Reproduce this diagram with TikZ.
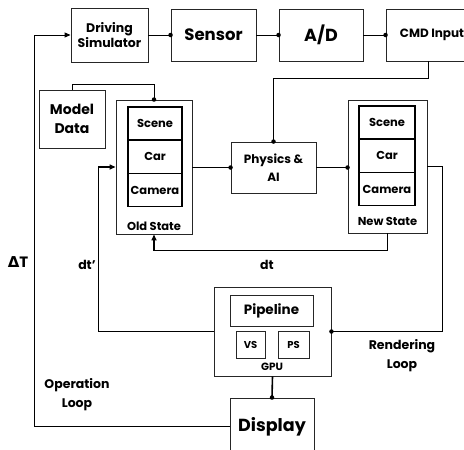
\documentclass[tikz,border=0pt]{standalone}
\usepackage{fontspec}
\setmainfont{Poppins}[BoldFont={* Bold}]
\newfontfamily\greekfont{DejaVu Sans}
\usetikzlibrary{arrows.meta}
\begin{document}
\begin{tikzpicture}[x=1pt,y=-1pt,
  every node/.style={font=\bfseries, text=black},
  blk/.style={draw=black!85, line width=0.9pt, rectangle, inner sep=0pt, align=center},
  cell/.style={draw=black, line width=1.4pt, rectangle, inner sep=0pt, minimum width=54pt, minimum height=33.3pt, font=\bfseries\fontsize{11.5}{12}\selectfont},
  wire/.style={draw=black, line width=0.9pt},
  bold wire/.style={draw=black, line width=1.6pt},
  arr/.style={-{Triangle[length=6pt,width=5pt]}},
  jdot/.style={circle, fill=black, inner sep=0pt, minimum size=4.5pt},
  lbl/.style={align=center, inner sep=0pt, font=\bfseries\fontsize{12.5}{14}\selectfont}]
\useasboundingbox (0,0) rectangle (464,450);
\begin{scope}
\clip (0,0) rectangle (464,450);

% signal chain along the top
\node[blk, minimum width=77pt, minimum height=54pt, font=\bfseries\fontsize{12.5}{15.5}\selectfont] (ds) at (109.5,35) {Driving\\Simulator};
\node[blk, minimum width=85pt, minimum height=52pt, font=\bfseries\fontsize{16.5}{18}\selectfont] (sensor) at (213.5,35) {Sensor};
\node[blk, minimum width=84pt, minimum height=52pt, font=\bfseries\fontsize{17.5}{18}\selectfont] (ad) at (321,35) {A/D};
\node[blk, minimum width=84pt, minimum height=52pt, font=\bfseries\fontsize{12}{12}\selectfont] (cmd) at (428,35) {\raisebox{2pt}{\hspace*{8pt}CMD Input}};

% model data and the two state stacks
\node[blk, minimum width=66pt, minimum height=58pt, font=\bfseries\fontsize{14}{19}\selectfont] (md) at (72,119) {Model\\Data};

\node[blk, minimum width=76pt, minimum height=134pt] (old) at (154,167) {};
\node[cell] (oscene) at (155,123.5) {Scene};
\node[cell] (ocar) at (155,156.8) {Car};
\node[cell] (ocam) at (155,190.1) {Camera};
\node[lbl, font=\bfseries\fontsize{11.5}{12}\selectfont] (oldl) at (154,226) {Old State};

\node[blk, minimum width=85pt, minimum height=51pt, font=\bfseries\fontsize{12}{18}\selectfont] (phys) at (273.5,167.5) {Physics \&\\AI};

\node[blk, minimum width=79pt, minimum height=133pt] (new) at (387.5,166.5) {};
\node[cell, minimum width=56pt] (nscene) at (387,122.5) {Scene};
\node[cell, minimum width=56pt] (ncar) at (387,155.8) {Car};
\node[cell, minimum width=56pt] (ncam) at (387,189.1) {Camera};
\node[lbl, font=\bfseries\fontsize{11.5}{12}\selectfont] (newl) at (387.5,221) {New State};

% graphics card
\node[blk, minimum width=117pt, minimum height=89pt] (gpu) at (272.5,331.5) {};
\node[blk, minimum width=83pt, minimum height=31pt, font=\bfseries\fontsize{13.5}{14}\selectfont] (pipe) at (271.5,310.5) {Pipeline};
\node[blk, minimum width=29pt, minimum height=27pt, font=\bfseries\fontsize{10}{11}\selectfont] (vs) at (250.5,344.5) {VS};
\node[blk, minimum width=31pt, minimum height=27pt, font=\bfseries\fontsize{10}{11}\selectfont] (ps) at (293.5,344.5) {PS};
\node[lbl, font=\bfseries\fontsize{10.5}{11}\selectfont] (gpul) at (272,367) {GPU};

\node[blk, minimum width=84pt, minimum height=57pt, font=\bfseries\fontsize{17.5}{20}\selectfont] (disp) at (272,426.5) {Display};

% connectors of the signal chain
\draw[wire] (ds.east) -- (sensor.west) node[jdot]{};
\draw[wire] (sensor.east) -- (ad.west) node[jdot]{};
\draw[wire] (ad.east) -- (cmd.west) node[jdot]{};
\draw[wire] (cmd.south) -- ++(0,17) -| (phys.north) node[jdot]{};
\draw[wire] (md.north) -- ++(0,-5) -| (old.north) node[jdot]{};
\draw[wire] (old.east |- phys.west) -- (phys.west) node[jdot]{};
\draw[wire] (phys.east) -- (phys.east -| new.west) node[jdot]{};

% time-step loops
\draw[bold wire, arr] (new.south) -- ++(0,17) -| (old.south);
\draw[bold wire, arr] (gpu.west) -| ([xshift=-17pt]old.west) -- (old.west);
\draw[bold wire] (new.east) -- ++(15,0) |- (gpu.east) node[jdot]{};
\draw[bold wire] (gpu.south) -- (disp.north) node[jdot]{};
\draw[wire, arr] (disp.west) -| ([xshift=-36pt]ds.west) -- (ds.west);
\end{scope}

% loop labels
\node[lbl, font=\bfseries\fontsize{15}{16}\selectfont] (dT) at (18,262) {{\greekfont\bfseries Δ}T};
\node[lbl] (dtp) at (87,265) {dt'};
\node[lbl] (dtl) at (267,265) {dt};
\node[lbl, font=\bfseries\fontsize{12.5}{19}\selectfont] (rl) at (402,356) {Rendering\\Loop};
\node[lbl, font=\bfseries\fontsize{12.5}{19}\selectfont] (ol) at (77,395) {Operation\\Loop};
\end{tikzpicture}
\end{document}
